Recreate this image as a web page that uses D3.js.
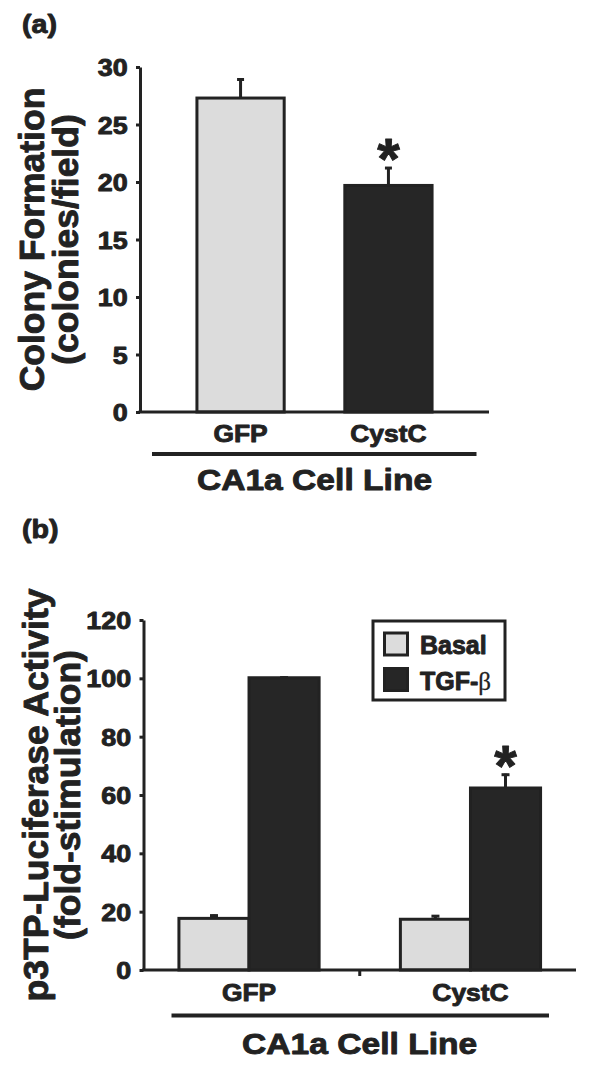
<!DOCTYPE html>
<html><head><meta charset="utf-8">
<script src="https://cdn.jsdelivr.net/npm/d3@7"></script>
<style>
body{margin:0;background:#fff}
text{font-family:"Liberation Sans",Arial,Helvetica,sans-serif;font-weight:bold;fill:#222;stroke:#222;stroke-width:0.9px;stroke-linejoin:round}
</style>
</head><body>
<svg id="c" width="600" height="1084"></svg>
<script>
// ---------- data ----------
const catsA = ["GFP", "CystC"];
const colonyMean = [27.3, 19.7];
const colonyErr = [1.7, 1.6];
const sigA = [false, true];
const ticksA = [0, 5, 10, 15, 20, 25, 30];

const catsB = ["GFP", "CystC"];
const seriesB = ["Basal", "TGF-β"];
const basalMean = [17.7, 17.4];
const basalErr = [1.3, 1.4];
const tgfMean = [100.2, 62.4];
const tgfErr = [0.4, 4.9];
const sigB = [false, true];
const ticksB = [0, 20, 40, 60, 80, 100, 120];

const groupLabel = "CA1a Cell Line";

// ---------- style ----------
const INK = "#222";
const LIGHT = "#dcdcdc";
const DARK = "#262626";
const SX = 1.12; // horizontal stretch of the original lettering

const svg = d3.select("#c");

function stretchedText(g, x, y, str, size, anchor, sx) {
  return g.append("text")
    .attr("transform", `translate(${x},${y}) scale(${sx || SX},1)`)
    .attr("text-anchor", anchor || "middle")
    .style("font-size", size + "px")
    .text(str);
}

function styleAxis(g, sx) {
  g.select(".domain").attr("stroke", INK).attr("stroke-width", 3);
  g.selectAll(".tick line").attr("stroke", INK).attr("stroke-width", 3);
  g.selectAll(".tick text")
    .style("font-size", "24px")
    .attr("fill", INK)
    .attr("dy", "0.36em")
    .attr("transform", `scale(${sx},1)`);
}

// ================= Panel (a) =================
(function () {
  const g = svg.append("g");
  const y = d3.scaleLinear().domain([0, 30]).range([412, 67]);
  const x = d3.scaleBand().domain(catsA).range([140, 489])
    .paddingInner(0.41).paddingOuter(0.385);

  stretchedText(g, 22, 33, "(a)", 26, "start", 1.1);

  const data = catsA.map((c, i) => ({c, v: colonyMean[i], e: colonyErr[i], s: sigA[i], i}));
  data.forEach(d => {
    const cx = x(d.c) + x.bandwidth() / 2;
    g.append("line").attr("x1", cx).attr("x2", cx)
      .attr("y1", y(d.v)).attr("y2", y(d.v + d.e))
      .attr("stroke", INK).attr("stroke-width", 3);
    g.append("line").attr("x1", cx - 3.5).attr("x2", cx + 3.5)
      .attr("y1", y(d.v + d.e) + 1).attr("y2", y(d.v + d.e) + 1)
      .attr("stroke", INK).attr("stroke-width", 3);
  });
  g.selectAll("rect.bar").data(data).join("rect")
    .attr("class", "bar")
    .attr("x", d => x(d.c))
    .attr("width", x.bandwidth())
    .attr("y", d => y(d.v))
    .attr("height", d => y(0) - y(d.v))
    .attr("fill", d => d.i === 0 ? LIGHT : DARK)
    .attr("stroke", INK).attr("stroke-width", 3);

  data.filter(d => d.s).forEach(d => {
    g.append("text")
      .attr("x", x(d.c) + x.bandwidth() / 2)
      .attr("y", y(d.v + d.e) + 12)
      .attr("text-anchor", "middle")
      .style("font-size", "58px")
      .text("*");
  });

  const ya = g.append("g").attr("transform", "translate(140,0)")
    .call(d3.axisLeft(y).tickValues(ticksA).tickSize(4).tickSizeOuter(0).tickPadding(7));
  styleAxis(ya, SX);
  g.append("line").attr("x1", 138.5).attr("x2", 489)
    .attr("y1", y(0)).attr("y2", y(0))
    .attr("stroke", INK).attr("stroke-width", 3);

  catsA.forEach(c => stretchedText(g, x(c) + x.bandwidth() / 2, 442, c, 24, "middle", 1.1));

  g.append("line").attr("x1", 152).attr("x2", 476.5).attr("y1", 454).attr("y2", 454)
    .attr("stroke", INK).attr("stroke-width", 4);
  stretchedText(g, 314.5, 490, groupLabel, 30, "middle", 1.12);

  const cy = (y(0) + y(30)) / 2;
  g.append("text").attr("transform", `translate(44,${cy}) rotate(-90)`)
    .attr("text-anchor", "middle").style("font-size", "35.5px").text("Colony Formation");
  g.append("text").attr("transform", `translate(78,${cy}) rotate(-90)`)
    .attr("text-anchor", "middle").style("font-size", "35.5px").text("(colonies/field)");
})();

// ================= Panel (b) =================
(function () {
  const g = svg.append("g");
  const y = d3.scaleLinear().domain([0, 120]).range([970, 620]);
  const x0 = d3.scaleBand().domain(catsB).range([143.5, 576])
    .paddingInner(0.367).paddingOuter(0.16);
  const x1 = d3.scaleBand().domain(seriesB).range([0, x0.bandwidth()]);
  const colors = d3.scaleOrdinal().domain(seriesB).range([LIGHT, DARK]);

  stretchedText(g, 22, 538, "(b)", 26, "start", 1.1);

  const means = [basalMean, tgfMean];
  const errs = [basalErr, tgfErr];
  const data = [];
  catsB.forEach((c, i) => seriesB.forEach((s, j) =>
    data.push({c, s, v: means[j][i], e: errs[j][i], i, j})));

  data.forEach(d => {
    const cx = x0(d.c) + x1(d.s) + x1.bandwidth() / 2;
    g.append("line").attr("x1", cx).attr("x2", cx)
      .attr("y1", y(d.v)).attr("y2", y(d.v + d.e))
      .attr("stroke", INK).attr("stroke-width", 3);
    g.append("line").attr("x1", cx - 4).attr("x2", cx + 4)
      .attr("y1", y(d.v + d.e) + 1).attr("y2", y(d.v + d.e) + 1)
      .attr("stroke", INK).attr("stroke-width", 3);
  });

  g.selectAll("rect.bar").data(data).join("rect")
    .attr("class", "bar")
    .attr("x", d => x0(d.c) + x1(d.s))
    .attr("width", x1.bandwidth())
    .attr("y", d => y(d.v))
    .attr("height", d => y(0) - y(d.v))
    .attr("fill", d => colors(d.s))
    .attr("stroke", INK).attr("stroke-width", 3);

  catsB.forEach((c, i) => {
    if (!sigB[i]) return;
    const s = seriesB[1];
    g.append("text")
      .attr("x", x0(c) + x1(s) + x1.bandwidth() / 2)
      .attr("y", y(tgfMean[i] + tgfErr[i]) + 12)
      .attr("text-anchor", "middle")
      .style("font-size", "58px")
      .text("*");
  });

  const ya = g.append("g").attr("transform", "translate(143.5,0)")
    .call(d3.axisLeft(y).tickValues(ticksB).tickSize(4).tickSizeOuter(0).tickPadding(7));
  styleAxis(ya, SX);
  g.append("line").attr("x1", 142).attr("x2", 576)
    .attr("y1", y(0)).attr("y2", y(0))
    .attr("stroke", INK).attr("stroke-width", 3);
  const midX = (x0(catsB[0]) + x0.bandwidth() + x0(catsB[1])) / 2;
  g.append("line").attr("x1", midX).attr("x2", midX)
    .attr("y1", y(0)).attr("y2", y(0) + 6)
    .attr("stroke", INK).attr("stroke-width", 3);

  catsB.forEach(c => stretchedText(g, x0(c) + x0.bandwidth() / 2, 1001, c, 24, "middle", 1.1));

  g.append("line").attr("x1", 171.5).attr("x2", 549).attr("y1", 1015.5).attr("y2", 1015.5)
    .attr("stroke", INK).attr("stroke-width", 4);
  stretchedText(g, 359.7, 1054, groupLabel, 30, "middle", 1.12);

  const cy = (y(0) + y(120)) / 2;
  g.append("text").attr("transform", `translate(48,${cy}) rotate(-90)`)
    .attr("text-anchor", "middle").style("font-size", "35.5px").text("p3TP-Luciferase Activity");
  g.append("text").attr("transform", `translate(80,${cy}) rotate(-90)`)
    .attr("text-anchor", "middle").style("font-size", "35.5px").text("(fold-stimulation)");

  const lg = g.append("g");
  lg.append("rect").attr("x", 373).attr("y", 621).attr("width", 132).attr("height", 79)
    .attr("fill", "#fff").attr("stroke", INK).attr("stroke-width", 3);
  seriesB.forEach((s, j) => {
    const yy = 633 + j * 35.5;
    lg.append("rect").attr("x", 384.5).attr("y", yy).attr("width", 23).attr("height", 22)
      .attr("fill", colors(s)).attr("stroke", INK).attr("stroke-width", 3);
    const t = lg.append("text").attr("x", 420).attr("y", yy + 21).style("font-size", "25px");
    if (s.endsWith("β")) {
      t.append("tspan").text(s.slice(0, -1));
      t.append("tspan").style("font-family", "'Liberation Serif','DejaVu Serif',serif")
        .style("font-weight", "normal").style("stroke-width", "0.3px").text("β");
    } else {
      t.text(s);
    }
  });
})();
</script>
</body></html>
